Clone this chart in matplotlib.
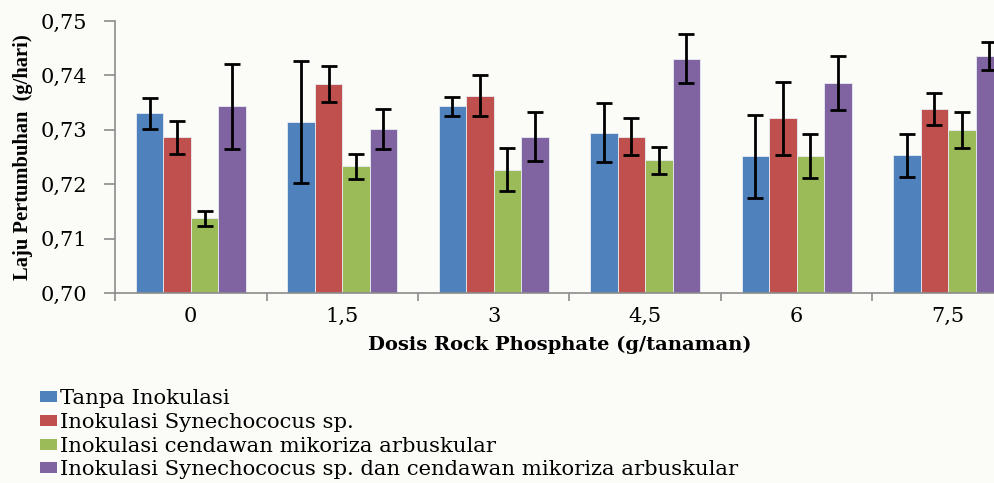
import numpy as np
import matplotlib.pyplot as plt
from matplotlib.patches import Patch

# dosis rock phosphate (g/tanaman)
dosis = ["0", "1,5", "3", "4,5", "6", "7,5"]

# laju pertumbuhan rata-rata (g/hari)
tanpa = [0.7330, 0.7314, 0.7343, 0.7295, 0.7251, 0.7253]
syn = [0.7286, 0.7385, 0.7363, 0.7287, 0.7321, 0.7338]
cma = [0.7137, 0.7233, 0.7227, 0.7244, 0.7252, 0.7300]
syn_cma = [0.7343, 0.7301, 0.7287, 0.7431, 0.7386, 0.7436]

# standar error
err_tanpa = [0.0028, 0.0112, 0.0017, 0.0055, 0.0077, 0.0039]
err_syn = [0.0030, 0.0033, 0.0037, 0.0034, 0.0067, 0.0030]
err_cma = [0.0014, 0.0023, 0.0040, 0.0025, 0.0040, 0.0033]
err_syn_cma = [0.0078, 0.0037, 0.0045, 0.0045, 0.0050, 0.0026]

labels = ["Tanpa Inokulasi",
          "Inokulasi Synechococus sp.",
          "Inokulasi cendawan mikoriza arbuskular",
          "Inokulasi Synechococus sp. dan cendawan mikoriza arbuskular"]
warna = ["#4f81bd", "#c0504d", "#9bbb59", "#8064a2"]

bg = "#fbfcf8"
fig = plt.figure(figsize=(9.95, 4.83), dpi=100, facecolor=bg)
ax = fig.add_axes([0.1156, 0.3934, 0.8844, 0.5631])
ax.set_facecolor(bg)

x = np.arange(len(dosis))
w = 0.1815
series = [tanpa, syn, cma, syn_cma]
errs = [err_tanpa, err_syn, err_cma, err_syn_cma]
for i, (val, e, c) in enumerate(zip(series, errs, warna)):
    ax.bar(x + (i - 1.5) * w, val, width=w, color=c, edgecolor="#e8ecf3",
           linewidth=0.6, zorder=2)
    ax.errorbar(x + (i - 1.5) * w, val, yerr=e, fmt="none", ecolor="black",
                elinewidth=2, capsize=5.5, capthick=2, zorder=3)

ax.set_ylim(0.70, 0.75)
ax.set_xlim(-0.5, 5.309)
ax.set_yticks(np.arange(0.70, 0.7501, 0.01))
ax.set_yticklabels(["0,70", "0,71", "0,72", "0,73", "0,74", "0,75"],
                   family="DejaVu Serif", fontsize=15)

# tick garis di batas kelompok, label di tengah kelompok
ax.set_xticks(np.arange(-0.5, 5.5, 1.0))
ax.set_xticklabels([])
ax.set_xticks(x, minor=True)
ax.set_xticklabels(dosis, minor=True, family="DejaVu Serif", fontsize=15)
ax.tick_params(axis="x", which="major", length=6, color="#8c8c8c", width=1.2)
ax.tick_params(axis="x", which="minor", length=0, pad=10)
ax.tick_params(axis="y", length=8, color="#8c8c8c", width=1.2, pad=12)

for s in ["top", "right"]:
    ax.spines[s].set_visible(False)
for s in ["left", "bottom"]:
    ax.spines[s].set_color("#8c8c8c")
    ax.spines[s].set_linewidth(1.2)

ax.set_ylabel("Laju Pertumbuhan  (g/hari)", family="Liberation Serif",
              fontweight="bold", fontsize=14.8)
ax.yaxis.set_label_coords(-0.093, 0.5)
fig.text(0.563, 0.285, "Dosis Rock Phosphate (g/tanaman)", family="DejaVu Serif",
         fontweight="bold", fontsize=14, ha="center", va="center")

handles = [Patch(facecolor=c, edgecolor="none") for c in warna]
fig.legend(handles, labels, loc="upper left", bbox_to_anchor=(0.040, 0.194),
           frameon=False, prop={"family": "DejaVu Serif", "size": 15.2},
           handlelength=0.82, handleheight=0.43, handletextpad=0.15,
           labelspacing=0.22, borderpad=0, borderaxespad=0)

fig.savefig("out.png", dpi=100, facecolor=bg)
